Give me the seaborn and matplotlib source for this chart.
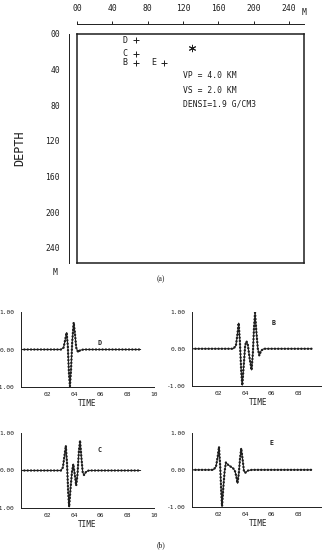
import matplotlib
matplotlib.use("Agg")
import matplotlib.pyplot as plt
import seaborn as sns

sns.set_style("white")
plt.rcParams['font.family'] = ['DejaVu Sans Mono', 'DejaVu Sans']

INK = "#1e1e1e"

# --- (a) model geometry ---
rec_names = ["D", "C", "B", "E"]
rec_x = [67, 67, 67, 99]
rec_depth = [7, 22, 32, 32]
src_x = [130]
src_depth = [16]
model_text = ["VP = 4.0 KM", "VS = 2.0 KM", "DENSI=1.9 G/CM3"]
model_text_depth = [47, 63, 78]
scale_ticks = [0, 40, 80, 120, 160, 200, 240]
scale_labels = ["00", "40", "80", "120", "160", "200", "240"]

# --- (b) seismograms (time, amplitude) ---
t_d = [0.0, 3.0, 3.2, 3.3, 3.43, 3.52, 3.6, 3.68, 3.76, 3.85, 3.96, 4.05, 4.15, 4.29, 4.45, 4.7, 9.0]
v_d = [0.0, 0.0, 0.05, 0.22, 0.45, 0.1, -0.6, -0.98, -0.55, 0.2, 0.72, 0.45, 0.05, -0.07, -0.02, 0.0, 0.0]

t_b = [0.0, 3.1, 3.3, 3.42, 3.51, 3.6, 3.7, 3.78, 3.88, 4.0, 4.1, 4.2, 4.35, 4.48, 4.58, 4.66,
       4.74, 4.83, 4.95, 5.06, 5.2, 5.4, 9.0]
v_b = [0.0, 0.0, 0.08, 0.4, 0.69, 0.2, -0.6, -0.98, -0.5, 0.1, 0.2, 0.1, -0.3, -0.57, -0.1, 0.55,
       0.97, 0.5, 0.0, -0.18, -0.05, 0.0, 0.0]

t_c = [0.0, 3.0, 3.15, 3.27, 3.37, 3.46, 3.55, 3.62, 3.72, 3.83, 3.93, 4.04, 4.15, 4.25, 4.35,
       4.44, 4.54, 4.64, 4.74, 4.9, 5.1, 9.0]
v_c = [0.0, 0.0, 0.08, 0.4, 0.66, 0.2, -0.6, -0.97, -0.5, -0.05, 0.17, -0.1, -0.4, -0.1, 0.5,
       0.8, 0.35, -0.05, -0.12, -0.03, 0.0, 0.0]

t_e = [0.0, 1.6, 1.8, 1.93, 2.03, 2.12, 2.2, 2.26, 2.35, 2.45, 2.55, 2.7, 2.85, 2.98, 3.12, 3.25,
       3.34, 3.42, 3.52, 3.61, 3.7, 3.8, 3.9, 4.0, 4.2, 4.5, 9.0]
v_e = [0.0, 0.0, 0.08, 0.35, 0.62, 0.1, -0.6, -0.98, -0.5, -0.05, 0.2, 0.14, 0.1, 0.07, 0.03, -0.05,
       -0.2, -0.36, -0.1, 0.3, 0.58, 0.3, -0.02, -0.08, -0.02, 0.0, 0.0]

traces = [("D", t_d, v_d, 5.9, 0.18), ("B", t_b, v_b, 6.1, 0.68),
          ("C", t_c, v_c, 5.9, 0.56), ("E", t_e, v_e, 6.0, 0.72)]

W, H = 322, 551
fig = plt.figure(figsize=(W / 100, H / 100), dpi=100)


def rect(left, top, right, bottom):
    return [left / W, 1 - bottom / H, (right - left) / W, (bottom - top) / H]


# ---------- (a) ----------
ax = fig.add_axes(rect(77, 34, 304, 263))
ax.set_xlim(0, 257)
ax.set_ylim(257, 0)
ax.set_xticks([])
ax.set_yticks([])
for s in ax.spines.values():
    s.set_linewidth(1.1)
    s.set_color(INK)

sns.scatterplot(x=rec_x, y=rec_depth, marker="+", s=20, color=INK, linewidth=0.7, ax=ax, legend=False)
sns.scatterplot(x=src_x, y=src_depth, marker=(6, 2, 0), s=22, color=INK, linewidth=0.7, ax=ax, legend=False)
for name, x, d in zip(rec_names, rec_x, rec_depth):
    ax.annotate(name, (x, d), xytext=(-8, 0), textcoords="offset points",
                ha="center", va="center", fontsize=6, color=INK)
for txt, d in zip(model_text, model_text_depth):
    ax.text(120, d, txt, ha="left", va="center", fontsize=5.8, color=INK)

# scale axes (offset from the box)
sc = fig.add_axes(rect(77, 34, 304, 263))
sc.patch.set_visible(False)
sc.set_xlim(0, 257)
sc.set_ylim(257, 0)
for k in ["right", "bottom"]:
    sc.spines[k].set_visible(False)
sc.spines["top"].set_position(("outward", 7.2))
sc.spines["left"].set_position(("outward", 5.8))
for k in ["top", "left"]:
    sc.spines[k].set_linewidth(0.7)
    sc.spines[k].set_color(INK)
sc.xaxis.tick_top()
sc.set_xticks(scale_ticks)
sc.set_xticklabels(scale_labels)
sc.set_yticks(scale_ticks)
sc.set_yticklabels(scale_labels)
sc.tick_params(axis="x", direction="out", length=2.4, width=0.7, pad=5.5, labelsize=5.8, colors=INK)
sc.tick_params(axis="y", direction="out", length=4, width=0.7, pad=2.5, labelsize=5.8, colors=INK)
sc.set_ylabel("DEPTH", fontsize=8.5, color=INK, labelpad=14)
sc.annotate("M", (252, 1), xycoords=("data", "axes fraction"), xytext=(3, 15.5),
            textcoords="offset points", ha="center", va="center", fontsize=5.8, color=INK)
sc.annotate("M", (0, 257), xycoords=("axes fraction", "data"), xytext=(-16, -7),
            textcoords="offset points", ha="center", va="center", fontsize=5.8, color=INK)

fig.text(161 / W, 1 - 279 / H, "(a)", ha="center", va="center", fontsize=5.5,
         family="Liberation Serif", color=INK)

# ---------- (b) ----------
boxes = [rect(21, 312, 154, 387), rect(192, 311.5, 325, 386),
         rect(21, 433, 154, 508), rect(192, 432.7, 325, 507)]
for (name, t, v, lx, ly), r in zip(traces, boxes):
    a = fig.add_axes(r)
    a.patch.set_visible(False)
    sns.lineplot(x=t, y=v, ax=a, color=INK, lw=0.7)
    sns.lineplot(x=t, y=v, ax=a, color=INK, lw=1.7, linestyle=(0, (0.1, 1.3)),
                 dash_capstyle="round")
    a.set_xlim(0, 10)
    a.set_ylim(-1, 1)
    for k in ["top", "right"]:
        a.spines[k].set_visible(False)
    for k in ["left", "bottom"]:
        a.spines[k].set_linewidth(0.7)
        a.spines[k].set_color(INK)
    a.set_xticks(range(1, 11))
    a.set_xticklabels(["", "02", "", "04", "", "06", "", "08", "", "10"])
    a.set_yticks([-1, 0, 1])
    a.set_yticklabels(["-1.00", "0.00", "1.00"])
    a.set_yticks([-0.75, -0.5, -0.25, 0.25, 0.5, 0.75], minor=True)
    a.tick_params(axis="x", direction="in", length=2.5, width=0.6, pad=3.5, labelsize=4.5, colors=INK)
    a.tick_params(axis="y", which="both", direction="out", length=2, width=0.6, pad=2.5,
                  labelsize=4.5, colors=INK)
    a.set_xlabel("TIME", fontsize=5.5, color=INK, labelpad=1.5)
    a.text(lx, ly, name, ha="center", va="center", fontsize=4.8, fontweight="bold", color=INK)

fig.text(161 / W, 1 - 545 / H, "(b)", ha="center", va="center", fontsize=5.5,
         family="Liberation Serif", color=INK)

fig.savefig("out.png", dpi=100, facecolor="white")
